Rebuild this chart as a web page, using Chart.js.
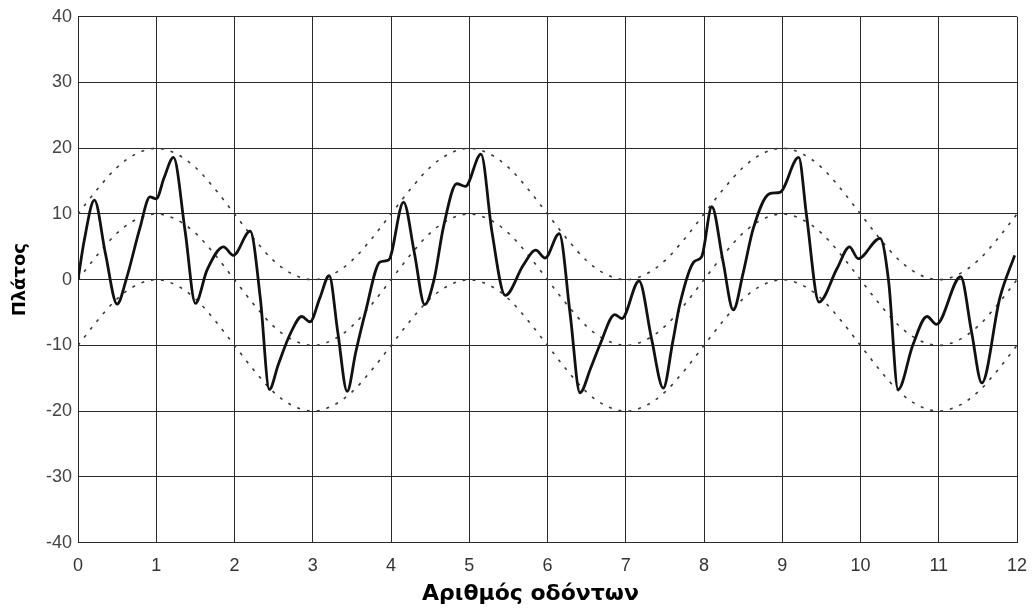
<!DOCTYPE html>
<html>
<head>
<meta charset="utf-8">
<script src="https://cdn.jsdelivr.net/npm/chart.js@4.4.1/dist/chart.umd.min.js"></script>
<style>
html,body{margin:0;padding:0;background:#fff;}
#wrap{width:1033px;height:613px;position:relative;}
</style>
</head>
<body>
<div id="wrap"><canvas id="c"></canvas></div>
<script>
// Solid signal (x = tooth number, y = amplitude)
const signalX = [0,0.08,0.21,0.35,0.5,0.62,0.79,0.92,1.0,1.1,1.22,1.37,1.5,1.65,1.86,1.985,2.2,2.33,2.445,2.56,2.71,2.86,2.965,3.09,3.21,3.32,3.44,3.55,3.67,3.86,3.97,4.16,4.3,4.43,4.55,4.67,4.84,4.95,5.15,5.29,5.46,5.69,5.85,5.97,6.15,6.29,6.415,6.55,6.67,6.86,6.95,7.17,7.33,7.48,7.6,7.69,7.87,7.97,8.1,8.24,8.375,8.5,8.63,8.84,8.97,9.21,9.31,9.47,9.7,9.86,9.97,10.25,10.36,10.48,10.67,10.85,10.97,11.28,11.42,11.55,11.78,11.97];
const signalY = [0,6,12.1,4,-3.7,0.2,7.8,12.6,12.3,15.5,18.6,7.3,-3.6,1.5,5.0,3.7,7.4,-2.8,-16.7,-12.9,-8.3,-5.6,-6.4,-2.8,0.6,-8,-17,-11,-5.1,2.7,3.0,11.8,4,-3.8,0,8,14.6,14.2,19.1,7.3,-2.4,2.2,4.5,3.3,7.0,-5.3,-17.2,-13.5,-9.9,-5.3,-5.9,-0.2,-9,-16.5,-9.5,-3.8,2.7,3.5,11.1,3,-4.6,1,7.8,13.1,13.3,18.6,9.8,-3.4,1.7,5.0,3.2,6.3,-0.3,-16.7,-9.9,-5.6,-6.8,0.45,-8,-15.7,-2.8,3.7];

// Dashed envelopes, sampled every quarter tooth
const envX = [0,0.25,0.5,0.75,1,1.25,1.5,1.75,2,2.25,2.5,2.75,3,3.25,3.5,3.75,4,4.25,4.5,4.75,5,5.25,5.5,5.75,6,6.25,6.5,6.75,7,7.25,7.5,7.75,8,8.25,8.5,8.75,9,9.25,9.5,9.75,10,10.25,10.5,10.75,11,11.25,11.5,11.75,12];
const envUpper = [10,13.8,17.1,19.2,20,19.2,17.1,13.8,10,6.2,2.9,0.8,0,0.8,2.9,6.2,10,13.8,17.1,19.2,20,19.2,17.1,13.8,10,6.2,2.9,0.8,0,0.8,2.9,6.2,10,13.8,17.1,19.2,20,19.2,17.1,13.8,10,6.2,2.9,0.8,0,0.8,2.9,6.2,10];
const envMiddle = [0,3.8,7.1,9.2,10,9.2,7.1,3.8,0,-3.8,-7.1,-9.2,-10,-9.2,-7.1,-3.8,0,3.8,7.1,9.2,10,9.2,7.1,3.8,0,-3.8,-7.1,-9.2,-10,-9.2,-7.1,-3.8,0,3.8,7.1,9.2,10,9.2,7.1,3.8,0,-3.8,-7.1,-9.2,-10,-9.2,-7.1,-3.8,0];
const envLower = [-10,-6.2,-2.9,-0.8,0,-0.8,-2.9,-6.2,-10,-13.8,-17.1,-19.2,-20,-19.2,-17.1,-13.8,-10,-6.2,-2.9,-0.8,0,-0.8,-2.9,-6.2,-10,-13.8,-17.1,-19.2,-20,-19.2,-17.1,-13.8,-10,-6.2,-2.9,-0.8,0,-0.8,-2.9,-6.2,-10,-13.8,-17.1,-19.2,-20,-19.2,-17.1,-13.8,-10];

// Axis ticks
const xTickValues = [0,1,2,3,4,5,6,7,8,9,10,11,12];
const yTickValues = [-40,-30,-20,-10,0,10,20,30,40];

const xAxisTitle = 'Αριθμός οδόντων';
const yAxisTitle = 'Πλάτος';

const pts = (xs, ys) => xs.map((x, i) => ({x: x, y: ys[i]}));
const dashedStyle = {
  borderColor: '#3a3a3a', borderWidth: 1.6, borderDash: [3, 7],
  pointRadius: 0, cubicInterpolationMode: 'monotone', fill: false
};

const gridColor = '#2a2a2a';

new Chart(document.getElementById('c'), {
  type: 'line',
  data: {
    datasets: [
      {data: pts(signalX, signalY), borderColor: '#111', borderWidth: 2.8, pointRadius: 0,
       cubicInterpolationMode: 'monotone', fill: false},
      Object.assign({data: pts(envX, envUpper)}, dashedStyle),
      Object.assign({data: pts(envX, envMiddle)}, dashedStyle),
      Object.assign({data: pts(envX, envLower)}, dashedStyle)
    ]
  },
  options: {
    responsive: true,
    maintainAspectRatio: false,
    animation: false,
    layout: {padding: {left: 44, right: 16, top: 14, bottom: 0}},
    plugins: {
      legend: {display: false},
      tooltip: {enabled: false},
      title: {
        display: true, position: 'bottom', text: xAxisTitle, color: '#000',
        font: {family: 'DejaVu Sans', size: 22, weight: 'bold'},
        padding: {top: 0, bottom: 6}
      }
    },
    scales: {
      x: {
        type: 'linear', min: 0, max: 12,
        afterBuildTicks: s => { s.ticks = xTickValues.map(v => ({value: v})); },
        ticks: {color: '#333', padding: 13, maxRotation: 0,
                font: {family: 'Liberation Sans', size: 18}},
        grid: {color: gridColor, lineWidth: 1, drawTicks: false},
        border: {color: gridColor, width: 1},
        afterFit: s => { s.height = 38; s.paddingRight = 0; s.paddingLeft = 0; }
      },
      y: {
        type: 'linear', min: -40, max: 40,
        afterBuildTicks: s => { s.ticks = yTickValues.map(v => ({value: v})); },
        ticks: {color: '#444', padding: 6,
                font: {family: 'Liberation Sans', size: 18}},
        grid: {color: gridColor, lineWidth: 1, drawTicks: false},
        border: {color: gridColor, width: 1},
        title: {display: true, text: yAxisTitle, color: '#000',
                font: {family: 'DejaVu Sans', size: 18, weight: 'bold'},
                padding: {top: -34, bottom: 0}},
        afterFit: s => { s.width = 34; }
      }
    }
  }
});
</script>
</body>
</html>
